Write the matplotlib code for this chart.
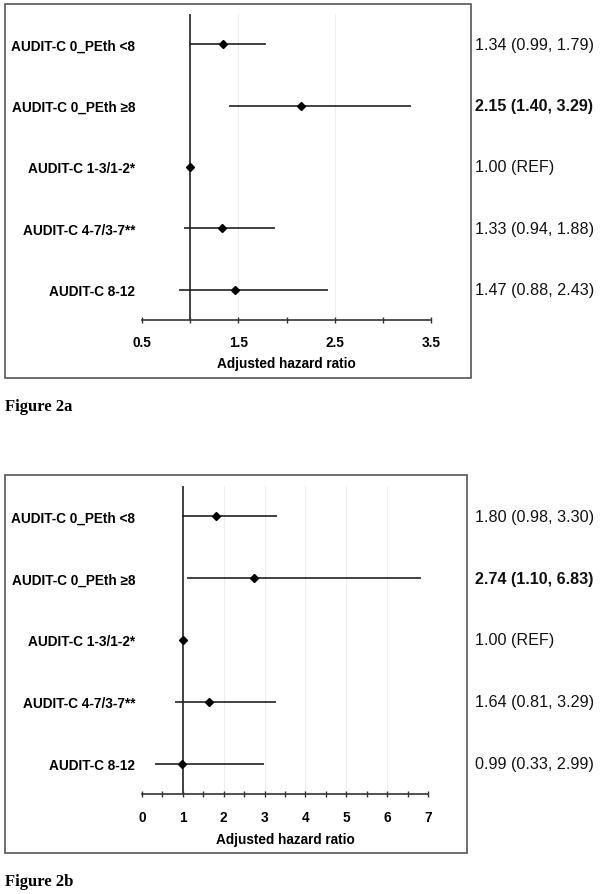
import matplotlib.pyplot as plt
from matplotlib.patches import Rectangle
from matplotlib.transforms import blended_transform_factory

# row labels (top to bottom)
labels = ["AUDIT-C 0_PEth <8", "AUDIT-C 0_PEth \u22658", "AUDIT-C 1-3/1-2*",
          "AUDIT-C 4-7/3-7**", "AUDIT-C 8-12"]

# Figure 2a
hr_a = [1.34, 2.15, 1.00, 1.33, 1.47]
lo_a = [0.99, 1.40, 1.00, 0.94, 0.88]
hi_a = [1.79, 3.29, 1.00, 1.88, 2.43]
txt_a = ["1.34 (0.99, 1.79)", "2.15 (1.40, 3.29)", "1.00 (REF)",
         "1.33 (0.94, 1.88)", "1.47 (0.88, 2.43)"]
bold_a = [False, True, False, False, False]
ticks_a = [0.5, 1.5, 2.5, 3.5]
tick_labels_a = ["0.5", "1.5", "2.5", "3.5"]

# Figure 2b
hr_b = [1.80, 2.74, 1.00, 1.64, 0.99]
lo_b = [0.98, 1.10, 1.00, 0.81, 0.33]
hi_b = [3.30, 6.83, 1.00, 3.29, 2.99]
txt_b = ["1.80 (0.98, 3.30)", "2.74 (1.10, 6.83)", "1.00 (REF)",
         "1.64 (0.81, 3.29)", "0.99 (0.33, 2.99)"]
bold_b = [False, True, False, False, False]
ticks_b = [0, 1, 2, 3, 4, 5, 6, 7]
tick_labels_b = ["0", "1", "2", "3", "4", "5", "6", "7"]

plt.rcParams['font.family'] = ['Liberation Sans', 'DejaVu Sans']

W, H = 604, 895
fig = plt.figure(figsize=(W / 100, H / 100), dpi=100)


def px_axes(x0, y0, x1, y1):
    # pixel box (top-left origin) -> figure fraction axes
    return fig.add_axes([x0 / W, 1 - y1 / H, (x1 - x0) / W, (y1 - y0) / H])


def frame(x0, y0, x1, y1):
    fig.patches.append(Rectangle((x0 / W, 1 - y1 / H), (x1 - x0) / W, (y1 - y0) / H,
                                 transform=fig.transFigure, fill=False,
                                 edgecolor='#555555', linewidth=1.2))


def forest(ax, hr, lo, hi, txt, bold, ticks, tick_labels, xlim, minor, pad):
    rows = list(range(1, len(hr) + 1))
    ax.set_xlim(*xlim)
    ax.set_ylim(len(hr) + 0.49, 0.51)
    for t in ticks[1:]:
        ax.axvline(t, color='#eeeeee', linewidth=0.8, zorder=0)
    ax.axvline(1, color='#333333', linewidth=1.3, zorder=1)
    ax.hlines(rows, lo, hi, color='#222222', linewidth=1.2, zorder=2)
    ax.plot(hr, rows, 'D', color='black', markersize=3.6, zorder=3)

    for s in ['top', 'right', 'left']:
        ax.spines[s].set_visible(False)
    ax.spines['bottom'].set_color('#333333')
    ax.spines['bottom'].set_linewidth(1.2)

    ax.set_yticks(rows)
    ax.set_yticklabels(labels, fontsize=9.8, fontweight='bold')
    ax.tick_params(axis='y', length=0, pad=5)

    ax.set_xticks(ticks)
    ax.set_xticklabels(tick_labels, fontsize=9.8, fontweight='bold')
    ax.set_xticks(minor, minor=True)
    ax.tick_params(axis='x', which='both', direction='inout', length=5,
                   width=1, color='#333333', pad=pad)
    ax.set_xlabel("Adjusted hazard ratio", fontsize=9.8, fontweight='bold', labelpad=5.5)

    # estimates column on the right
    trans = blended_transform_factory(fig.transFigure, ax.transData)
    for r, t, b in zip(rows, txt, bold):
        ax.text(475 / W, r, t, transform=trans, color='#111111',
                fontsize=11.6, fontweight='bold' if b else 'normal',
                ha='left', va='center')


ax_a = px_axes(142, 15, 431, 321)
forest(ax_a, hr_a, lo_a, hi_a, txt_a, bold_a, ticks_a, tick_labels_a,
       (0.5, 3.5), [1.0, 2.0, 3.0], 8)

ax_b = px_axes(142, 487, 428, 795)
forest(ax_b, hr_b, lo_b, hi_b, txt_b, bold_b, ticks_b, tick_labels_b,
       (0, 7), [0.5, 1.5, 2.5, 3.5, 4.5, 5.5, 6.5], 9)

frame(5, 5, 471, 379)
frame(5, 476, 467, 854)

fig.text(5 / W, 1 - 407 / H, "Figure 2a", family='Liberation Serif',
         fontweight='bold', fontsize=12, ha='left', va='center')
fig.text(5 / W, 1 - 882 / H, "Figure 2b", family='Liberation Serif',
         fontweight='bold', fontsize=12, ha='left', va='center')

fig.savefig("out.png", dpi=100)
